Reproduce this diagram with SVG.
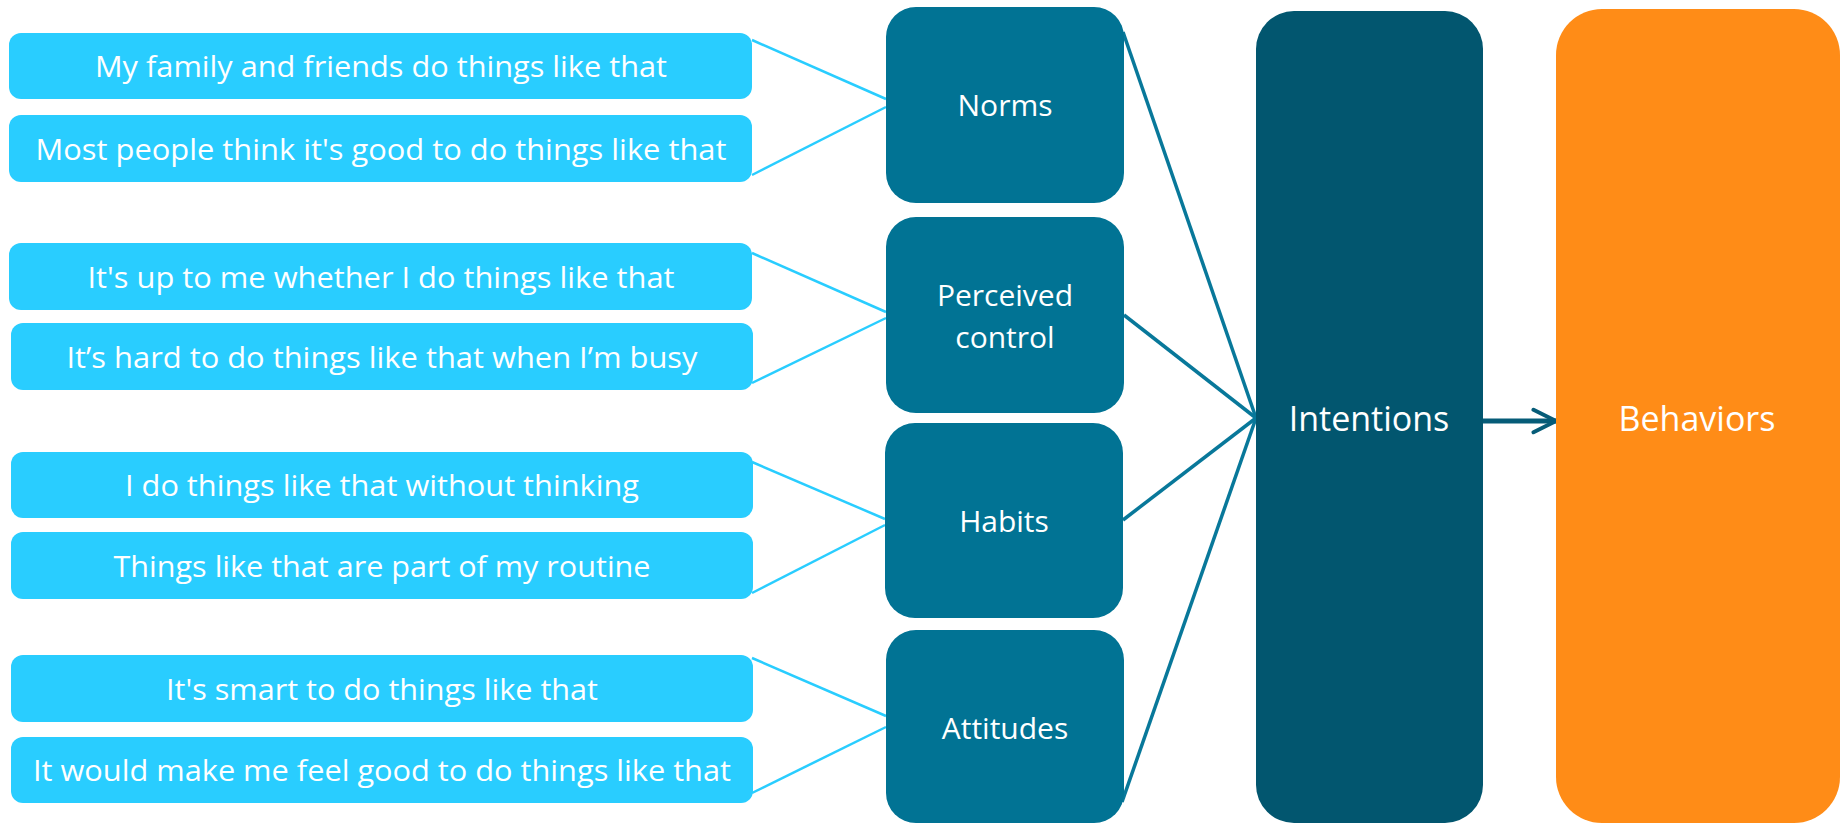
<svg xmlns="http://www.w3.org/2000/svg" width="1842" height="824" viewBox="0 0 1842 824">
  <style>
    .item { fill: #29CDFF; }
    .factor { fill: #017394; }
    .itemtxt { font-family: "Open Sans", "Liberation Sans", sans-serif; font-size: 30px; fill: #ffffff; text-anchor: middle; }
    .factortxt { font-family: "Open Sans", "Liberation Sans", sans-serif; font-size: 30px; fill: #ffffff; text-anchor: middle; }
    .bigtxt { font-family: "Open Sans", "Liberation Sans", sans-serif; font-size: 34px; fill: #ffffff; text-anchor: middle; }
    .thin { stroke: #29CDFF; stroke-width: 2.5; fill: none; }
    .thick { stroke: #08789A; stroke-width: 3.5; fill: none; }
  </style>
  <defs>
    <marker id="chev" viewBox="0 0 12 12" refX="10" refY="6" markerWidth="6" markerHeight="6" markerUnits="strokeWidth" orient="auto">
      <path d="M1,1.5 L10,6 L1,10.5" fill="none" stroke="#065C78" stroke-width="1.6" stroke-linecap="round" stroke-linejoin="round"/>
    </marker>
  </defs>

  <rect width="1842" height="824" fill="#ffffff"/>

  <!-- connectors -->
  <g id="connectors">
    <line class="thin" x1="752" y1="40" x2="886" y2="99"/>
    <line class="thin" x1="752" y1="175" x2="886" y2="107"/>
    <line class="thin" x1="752" y1="253" x2="886" y2="312"/>
    <line class="thin" x1="752" y1="383" x2="886" y2="318"/>
    <line class="thin" x1="752" y1="462" x2="885" y2="519"/>
    <line class="thin" x1="752" y1="593" x2="885" y2="525"/>
    <line class="thin" x1="752" y1="658" x2="886" y2="716"/>
    <line class="thin" x1="752" y1="793" x2="886" y2="727"/>

    <line class="thick" x1="1123" y1="32" x2="1256" y2="418"/>
    <line class="thick" x1="1124" y1="315" x2="1256" y2="418"/>
    <line class="thick" x1="1123" y1="520" x2="1256" y2="418"/>
    <line class="thick" x1="1122" y1="802" x2="1256" y2="418"/>

    <line x1="1483" y1="421" x2="1556" y2="421" stroke="#065C78" stroke-width="5" marker-end="url(#chev)"/>
  </g>

  <!-- statement items -->
  <g id="item-family">
    <rect class="item" x="9" y="33" width="743" height="66" rx="12"/>
    <text class="itemtxt" x="381" y="77" textLength="572" lengthAdjust="spacingAndGlyphs">My family and friends do things like that</text>
  </g>
  <g id="item-people">
    <rect class="item" x="9" y="115" width="743" height="67" rx="12"/>
    <text class="itemtxt" x="381" y="160" textLength="691" lengthAdjust="spacingAndGlyphs">Most people think it's good to do things like that</text>
  </g>
  <g id="item-upto">
    <rect class="item" x="9" y="243" width="743" height="67" rx="12"/>
    <text class="itemtxt" x="381" y="288" textLength="587" lengthAdjust="spacingAndGlyphs">It's up to me whether I do things like that</text>
  </g>
  <g id="item-busy">
    <rect class="item" x="11" y="323" width="742" height="67" rx="12"/>
    <text class="itemtxt" x="382" y="368" textLength="631" lengthAdjust="spacingAndGlyphs">It’s hard to do things like that when I’m busy</text>
  </g>
  <g id="item-nothinking">
    <rect class="item" x="11" y="452" width="742" height="66" rx="12"/>
    <text class="itemtxt" x="382" y="496" textLength="514" lengthAdjust="spacingAndGlyphs">I do things like that without thinking</text>
  </g>
  <g id="item-routine">
    <rect class="item" x="11" y="532" width="742" height="67" rx="12"/>
    <text class="itemtxt" x="382" y="577" textLength="537" lengthAdjust="spacingAndGlyphs">Things like that are part of my routine</text>
  </g>
  <g id="item-smart">
    <rect class="item" x="11" y="655" width="742" height="67" rx="12"/>
    <text class="itemtxt" x="382" y="700" textLength="432" lengthAdjust="spacingAndGlyphs">It's smart to do things like that</text>
  </g>
  <g id="item-feelgood">
    <rect class="item" x="11" y="737" width="742" height="66" rx="12"/>
    <text class="itemtxt" x="382" y="781" textLength="698" lengthAdjust="spacingAndGlyphs">It would make me feel good to do things like that</text>
  </g>

  <!-- factors -->
  <g id="norms">
    <rect class="factor" x="886" y="7" width="238" height="196" rx="30"/>
    <text class="factortxt" x="1005" y="116">Norms</text>
  </g>
  <g id="perceived-control">
    <rect class="factor" x="886" y="217" width="238" height="196" rx="30"/>
    <text class="factortxt" x="1005" y="306">Perceived</text>
    <text class="factortxt" x="1005" y="348">control</text>
  </g>
  <g id="habits">
    <rect class="factor" x="885" y="423" width="238" height="195" rx="30"/>
    <text class="factortxt" x="1004" y="532">Habits</text>
  </g>
  <g id="attitudes">
    <rect class="factor" x="886" y="630" width="238" height="193" rx="30"/>
    <text class="factortxt" x="1005" y="739">Attitudes</text>
  </g>

  <!-- outcomes -->
  <g id="intentions">
    <rect x="1256" y="11" width="227" height="812" rx="38" fill="#02566F"/>
    <text class="bigtxt" x="1369" y="431">Intentions</text>
  </g>
  <g id="behaviors">
    <rect x="1556" y="9" width="284" height="814" rx="46" fill="#FF8C17"/>
    <text class="bigtxt" x="1697" y="431" font-size="33">Behaviors</text>
  </g>
</svg>
